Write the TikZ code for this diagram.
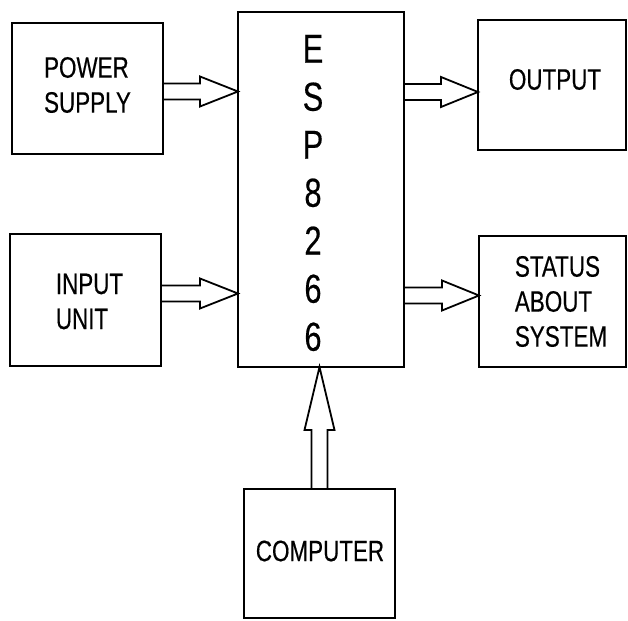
\documentclass[tikz,border=0pt]{standalone}
\usepackage{fontspec}
\setmainfont[FakeStretch=0.76,FakeBold=0.4]{Liberation Sans}
\usetikzlibrary{calc}
\tikzset{
  blockbox/.style={draw, line width=2pt, rectangle, inner sep=0pt, outer sep=0pt},
  lbl/.style={font=\fontsize{29.5}{35}\selectfont, align=left, inner sep=0pt},
  esplbl/.style={font=\fontsize{40.5}{48}\selectfont, align=center, inner sep=0pt},
  fatarrow/.style={draw, line width=1.8pt, line join=miter}
}
\newcommand\harrow[3]{%
  \draw[fatarrow] ($(#1)+(0,-8)$) -- ($(#2)+(-#3,-8)$) -- ($(#2)+(-#3,-15)$) -- (#2)
    -- ($(#2)+(-#3,15)$) -- ($(#2)+(-#3,8)$) -- ($(#1)+(0,8)$) -- cycle;}
\newcommand\varrow[3]{%
  \draw[fatarrow] ($(#1)+(-8,0)$) -- ($(#2)+(-8,#3)$) -- ($(#2)+(-15,#3)$) -- (#2)
    -- ($(#2)+(15,#3)$) -- ($(#2)+(8,#3)$) -- ($(#1)+(8,0)$) -- cycle;}
\begin{document}
\begin{tikzpicture}[x=1pt,y=-1pt]
\useasboundingbox (0,0) rectangle (628,620);
% boxes
\node[blockbox, minimum width=151pt, minimum height=131pt,
  label={[lbl, yshift=3.5pt]center:POWER\\SUPPLY}] (ps) at (87.5,88.5) {};
\node[blockbox, minimum width=151pt, minimum height=132pt,
  label={[lbl, xshift=4pt, yshift=-1.5pt]center:INPUT\\UNIT}] (in) at (85.5,300) {};
\node[blockbox, minimum width=166pt, minimum height=355pt,
  label={[esplbl, xshift=-8pt, yshift=-3.5pt]center:E\\S\\P\\8\\2\\6\\6}] (esp) at (321,189.5) {};
\node[blockbox, minimum width=148pt, minimum height=130pt,
  label={[lbl, xshift=3pt, yshift=5.5pt]center:OUTPUT}] (out) at (552,85) {};
\node[blockbox, minimum width=147pt, minimum height=131pt,
  label={[lbl, xshift=8.5pt]center:STATUS\\ABOUT\\SYSTEM}] (st) at (552.5,301.5) {};
\node[blockbox, minimum width=151pt, minimum height=129pt,
  label={[lbl, xshift=0.5pt, yshift=2.5pt]center:COMPUTER}] (comp) at (319.5,553.5) {};
% arrow end points
\coordinate (pa1) at ([yshift=-3pt]ps.east);
\coordinate (pa2) at (esp.west |- pa1);
\coordinate (ia1) at ([yshift=6.5pt]in.east);
\coordinate (ia2) at (esp.west |- ia1);
\coordinate (oa2) at ([yshift=-7pt]out.west);
\coordinate (oa1) at (esp.east |- oa2);
\coordinate (sa2) at ([yshift=6pt]st.west);
\coordinate (sa1) at (esp.east |- sa2);
\coordinate (ca2) at (comp.north |- esp.south);
% arrows
\harrow{pa1}{pa2}{38}
\harrow{ia1}{ia2}{38}
\harrow{oa1}{oa2}{37}
\harrow{sa1}{sa2}{37}
\varrow{comp.north}{ca2}{63}
\end{tikzpicture}
\end{document}
